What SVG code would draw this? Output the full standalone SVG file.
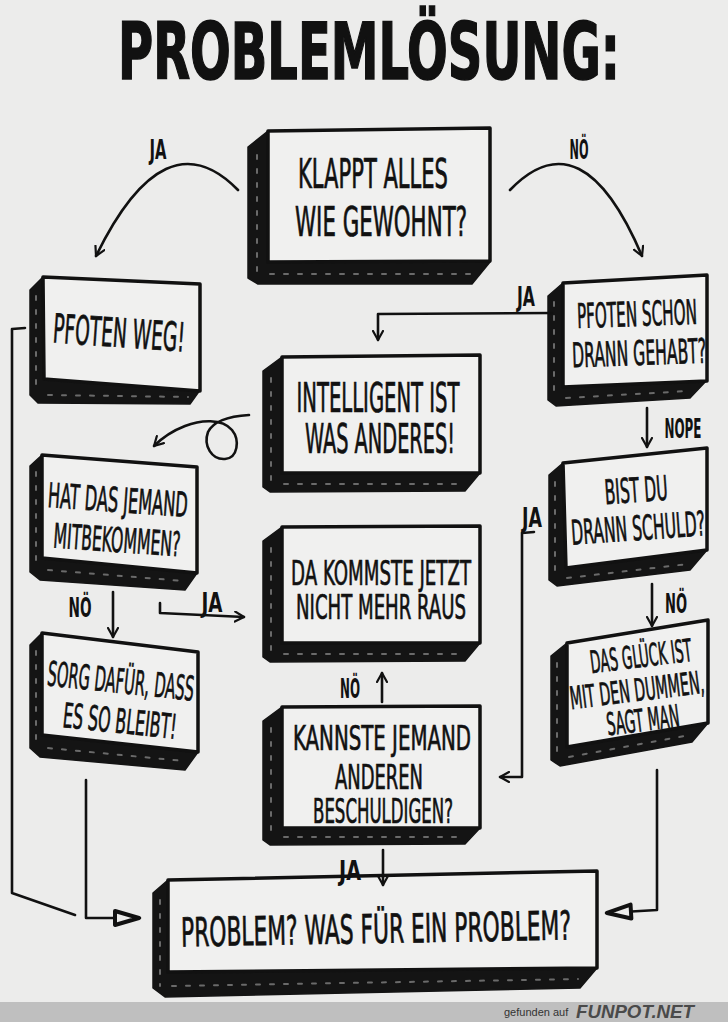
<svg xmlns="http://www.w3.org/2000/svg" width="728" height="1022" viewBox="0 0 728 1022">
<defs>
<style>
.face{fill:#f0f0ef;stroke:#111;stroke-width:3.5;stroke-linejoin:round}
.depth{fill:#141414;stroke:#141414;stroke-width:1.5;stroke-linejoin:round}
.hatch{fill:none;stroke:#6a6a6a;stroke-width:2;stroke-dasharray:4 10;stroke-linecap:round}
.t{font-family:"DejaVu Sans Condensed","DejaVu Sans","Liberation Sans",sans-serif;font-size:40px;fill:#111;stroke:#111;stroke-width:0.7;text-anchor:middle;font-stretch:condensed}
.s{font-size:34px}
.l{font-family:"DejaVu Sans Condensed","DejaVu Sans","Liberation Sans",sans-serif;font-size:26px;font-weight:bold;fill:#111;text-anchor:middle;font-stretch:condensed}
.c{fill:none;stroke:#111;stroke-width:2.6;stroke-linecap:round;stroke-linejoin:round}
</style>
<marker id="v" viewBox="0 0 12 12" refX="10" refY="6" markerWidth="12" markerHeight="12" markerUnits="userSpaceOnUse" orient="auto">
<path d="M1,1 L10,6 L1,11" fill="none" stroke="#111" stroke-width="2.2" stroke-linecap="round" stroke-linejoin="round"/>
</marker>
<marker id="tri" viewBox="0 0 30 20" refX="28" refY="10" markerWidth="30" markerHeight="20" markerUnits="userSpaceOnUse" orient="auto">
<path d="M3,3 L27,10 L3,17 Z" fill="#ececeb" stroke="#111" stroke-width="4" stroke-linejoin="round"/>
</marker>
</defs>
<rect x="0" y="0" width="728" height="1022" fill="#ececeb"/>

<text x="369" y="79" font-family="'DejaVu Sans Condensed','DejaVu Sans',sans-serif" font-weight="bold" font-size="78" fill="#111" stroke="#111" stroke-width="1.5" text-anchor="middle" textLength="502" lengthAdjust="spacingAndGlyphs">PROBLEMLÖSUNG:</text>

<g id="n-klappt">
<polygon class="depth" points="268,131 248,147 248,278 258,284 472,284 490,262 268,262"/>
<path class="hatch" d="M257,155 L257,275 M270,274 L478,274"/>
<polygon class="face" points="268,131 490,128 490,261 268,262"/>
<text class="t" x="373" y="188" textLength="150" lengthAdjust="spacingAndGlyphs">KLAPPT ALLES</text>
<text class="t" x="381" y="236" textLength="172" lengthAdjust="spacingAndGlyphs">WIE GEWOHNT?</text>
</g>

<g id="n-pfoten-weg">
<polygon class="depth" points="43,277 30,290 30,395 38,403 190,404 200,390 44,379"/>
<path class="hatch" d="M36,296 L36,392 M48,395 L188,397"/>
<polygon class="face" points="43,277 200,284 200,391 44,379"/>
<text class="t" x="119" y="347" textLength="132" lengthAdjust="spacingAndGlyphs" transform="rotate(4 119 334)">PFOTEN WEG!</text>
</g>

<g id="n-pfoten-schon">
<polygon class="depth" points="563,283 548,296 548,400 556,406 690,398 707,380 563,387"/>
<path class="hatch" d="M554,302 L554,398 M566,398 L688,391"/>
<polygon class="face" points="563,283 707,275 707,381 563,387"/>
<text class="t s" x="637" y="326" textLength="120" lengthAdjust="spacingAndGlyphs" transform="rotate(-2 637 315)">PFOTEN SCHON</text>
<text class="t s" x="639" y="365" textLength="134" lengthAdjust="spacingAndGlyphs" transform="rotate(-2 639 352)">DRANN GEHABT?</text>
</g>

<g id="n-intelligent">
<polygon class="depth" points="282,357 263,371 263,487 270,492 465,491 480,473 282,473"/>
<path class="hatch" d="M271,378 L271,484 M284,484 L466,484"/>
<polygon class="face" points="282,357 480,355 480,473 282,473"/>
<text class="t" x="378" y="412" textLength="163" lengthAdjust="spacingAndGlyphs">INTELLIGENT IST</text>
<text class="t" x="380" y="453" textLength="150" lengthAdjust="spacingAndGlyphs">WAS ANDERES!</text>
</g>

<g id="n-da-kommste">
<polygon class="depth" points="282,527 263,541 263,657 270,662 465,661 480,643 282,643"/>
<path class="hatch" d="M271,548 L271,654 M284,654 L466,654"/>
<polygon class="face" points="282,527 480,526 480,643 282,643"/>
<text class="t s" x="381" y="585" textLength="180" lengthAdjust="spacingAndGlyphs">DA KOMMSTE JETZT</text>
<text class="t s" x="381" y="619" textLength="170" lengthAdjust="spacingAndGlyphs">NICHT MEHR RAUS</text>
</g>

<g id="n-kannste">
<polygon class="depth" points="282,707 263,721 263,840 270,845 465,844 480,828 282,828"/>
<path class="hatch" d="M271,728 L271,837 M284,837 L466,837"/>
<polygon class="face" points="282,707 480,706 480,828 282,828"/>
<text class="t s" x="382" y="750" textLength="178" lengthAdjust="spacingAndGlyphs">KANNSTE JEMAND</text>
<text class="t s" x="379" y="789" textLength="88" lengthAdjust="spacingAndGlyphs">ANDEREN</text>
<text class="t s" x="383" y="823" textLength="140" lengthAdjust="spacingAndGlyphs">BESCHULDIGEN?</text>
</g>

<g id="n-hat-das">
<polygon class="depth" points="42,455 30,466 30,572 40,580 185,590 197,573 42,558"/>
<path class="hatch" d="M36,472 L36,570 M48,570 L184,581"/>
<polygon class="face" points="42,455 197,467 197,573 42,558"/>
<text class="t s" x="118" y="512" textLength="140" lengthAdjust="spacingAndGlyphs" transform="rotate(4 118 500)">HAT DAS JEMAND</text>
<text class="t s" x="117" y="552" textLength="127" lengthAdjust="spacingAndGlyphs" transform="rotate(4 117 540)">MITBEKOMMEN?</text>
</g>

<g id="n-sorg">
<polygon class="depth" points="42,633 30,645 30,748 40,757 185,770 198,752 42,735"/>
<path class="hatch" d="M36,651 L36,747 M48,748 L184,761"/>
<polygon class="face" points="42,633 198,652 198,752 42,735"/>
<text class="t s" x="121" y="693" textLength="147" lengthAdjust="spacingAndGlyphs" transform="rotate(6 121 680)">SORG DAFÜR, DASS</text>
<text class="t s" x="120" y="733" textLength="114" lengthAdjust="spacingAndGlyphs" transform="rotate(6 120 720)">ES SO BLEIBT!</text>
</g>

<g id="n-bist-du">
<polygon class="depth" points="563,463 549,475 549,580 557,586 690,570 707,550 566,568"/>
<path class="hatch" d="M555,482 L555,578 M567,578 L688,564"/>
<polygon class="face" points="563,463 707,448 707,550 566,568"/>
<text class="t s" x="636" y="502" textLength="63" lengthAdjust="spacingAndGlyphs" transform="rotate(-4 636 490)">BIST DU</text>
<text class="t s" x="638" y="540" textLength="134" lengthAdjust="spacingAndGlyphs" transform="rotate(-4 638 528)">DRANN SCHULD?</text>
</g>

<g id="n-glueck">
<polygon class="depth" points="567,643 551,656 551,760 560,766 692,742 708,723 567,747"/>
<path class="hatch" d="M557,663 L557,757 M569,757 L690,735"/>
<polygon class="face" points="567,643 708,620 708,723 567,747"/>
<text class="t" style="font-size:31px" x="641" y="667" textLength="102" lengthAdjust="spacingAndGlyphs" transform="rotate(-7 641 657)">DAS GLÜCK IST</text>
<text class="t" style="font-size:31px" x="637" y="701" textLength="135" lengthAdjust="spacingAndGlyphs" transform="rotate(-7 637 691)">MIT DEN DUMMEN,</text>
<text class="t" style="font-size:31px" x="643" y="731" textLength="73" lengthAdjust="spacingAndGlyphs" transform="rotate(-7 643 721)">SAGT MAN</text>
</g>

<g id="n-problem">
<polygon class="depth" points="168,880 153,893 153,988 165,997 580,988 597,968 168,972"/>
<path class="hatch" d="M160,900 L160,986 M172,986 L578,979"/>
<polygon class="face" points="168,880 597,871 597,968 168,972"/>
<text class="t" x="376" y="943" textLength="390" lengthAdjust="spacingAndGlyphs" transform="rotate(-1 376 930)">PROBLEM? WAS FÜR EIN PROBLEM?</text>
</g>

<g id="connectors">
<path class="c" d="M238,190 Q165,115 96,256" marker-end="url(#v)"/>
<text class="l" x="158" y="159" textLength="17" lengthAdjust="spacingAndGlyphs">JA</text>
<path class="c" d="M510,190 Q582,115 642,256" marker-end="url(#v)"/>
<text class="l" x="579" y="159" textLength="19" lengthAdjust="spacingAndGlyphs">NÖ</text>
<path class="c" d="M552,313 L378,314 L378,340" marker-end="url(#v)"/>
<text class="l" x="526" y="306" textLength="18" lengthAdjust="spacingAndGlyphs">JA</text>
<path class="c" d="M249,415 C232,416 214,420 208,432 C203,446 212,460 225,459 C238,458 240,440 232,430 C222,418 200,420 185,426 C172,431 162,438 154,446" marker-end="url(#v)"/>
<path class="c" d="M647,408 L647,447" marker-end="url(#v)"/>
<text class="l" x="683" y="438" textLength="37" lengthAdjust="spacingAndGlyphs">NOPE</text>
<path class="c" d="M652,584 L652,626" marker-end="url(#v)"/>
<text class="l" x="676" y="613" textLength="22" lengthAdjust="spacingAndGlyphs">NÖ</text>
<text class="l" x="532" y="527" textLength="20" lengthAdjust="spacingAndGlyphs">JA</text>
<path class="c" d="M534,532 L522,533 L522,777 L500,777" marker-end="url(#v)"/>
<path class="c" d="M657,770 L657,910 L606,913" marker-end="url(#tri)"/>
<path class="c" d="M25,328 L12,329 L12,893 L75,915"/>
<path class="c" d="M86,780 L86,918 L140,918" marker-end="url(#tri)"/>
<text class="l" x="80" y="617" textLength="23" lengthAdjust="spacingAndGlyphs">NÖ</text>
<path class="c" d="M113,592 L113,637" marker-end="url(#v)"/>
<text class="l" x="212" y="612" textLength="21" lengthAdjust="spacingAndGlyphs">JA</text>
<path class="c" d="M160,603 L160,613 L244,617" marker-end="url(#v)"/>
<text class="l" x="350" y="698" textLength="20" lengthAdjust="spacingAndGlyphs">NÖ</text>
<path class="c" d="M382,702 L382,673" marker-end="url(#v)"/>
<text class="l" x="350" y="880" textLength="22" lengthAdjust="spacingAndGlyphs">JA</text>
<path class="c" d="M383,850 L383,885" marker-end="url(#v)"/>
</g>

<rect x="0" y="1002" width="728" height="20" fill="#bfbfbf"/>
<text x="504" y="1016" font-family="'Liberation Sans',sans-serif" font-size="11" fill="#333">gefunden auf</text>
<text x="576" y="1018" font-family="'Liberation Sans',sans-serif" font-size="18" font-weight="bold" font-style="italic" fill="#4a4a4a" textLength="118" lengthAdjust="spacingAndGlyphs">FUNPOT.NET</text>
</svg>
